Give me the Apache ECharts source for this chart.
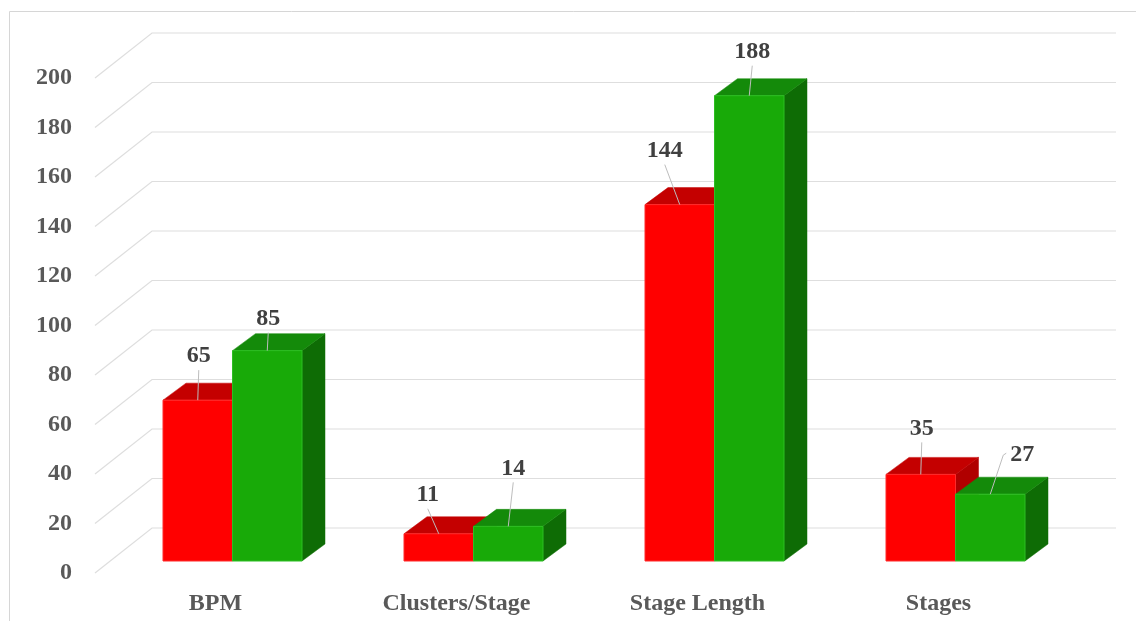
<!DOCTYPE html>
<html>
<head>
<meta charset="utf-8">
<script src="https://cdn.jsdelivr.net/npm/echarts/dist/echarts.min.js"></script>
<style>
  html, body { margin: 0; padding: 0; background: #ffffff; }
  #chart { width: 1136px; height: 621px; }
</style>
</head>
<body>
<div id="chart"></div>
<script>
// ---- data ----
const categories = ['BPM', 'Clusters/Stage', 'Stage Length', 'Stages'];
const redValues = [65, 11, 144, 35];
const greenValues = [85, 14, 188, 27];
const yTicks = [0, 20, 40, 60, 80, 100, 120, 140, 160, 180, 200];

// value-label placement (px) relative to the top-front centre of each bar
const redLabelOffsets = [[1, -44], [-11, -39], [-15, -54], [1, -46]];
const greenLabelOffsets = [[1, -32], [5, -58], [3, -44], [32, -39]];

// ---- oblique 3D geometry ----
const BAR_GRID = { left: 112, top: 66, width: 964, bottom: 60 };
const LABEL_SHIFT = [-17, 12];   // front (label) plane relative to the bar plane
const BACK_SHIFT = [40, -33];    // back wall relative to the bar plane
const DEPTH = [23, -17];         // bar thickness
const BAR_FRACTION = 69.5 / 241; // bar width as part of a category band

const FONT = '"Liberation Serif", "Times New Roman", serif';

const palette = {
  red:   { front: '#ff0000', top: '#c40000', side: '#b00000', edge: '#ff2a2a' },
  green: { front: '#18aa08', top: '#148a0a', side: '#0e6c05', edge: '#2cbf22' }
};

function barRenderer(colors, side) {
  return function (params, api) {
    const cat = api.value(0), val = api.value(1);
    const base = api.coord([cat, 0]);
    const top = api.coord([cat, val]);
    const band = api.size([1, 0])[0];
    const w = band * BAR_FRACTION;
    const x0 = side === 0 ? base[0] - w : base[0];
    const x1 = x0 + w;
    const yb = base[1], yt = top[1];
    const dx = DEPTH[0], dy = DEPTH[1];
    return {
      type: 'group',
      children: [
        { type: 'polygon',
          shape: { points: [[x1, yb], [x1 + dx, yb + dy], [x1 + dx, yt + dy], [x1, yt]] },
          style: { fill: colors.side, stroke: colors.side, lineWidth: 0.5 } },
        { type: 'polygon',
          shape: { points: [[x0, yt], [x1, yt], [x1 + dx, yt + dy], [x0 + dx, yt + dy]] },
          style: { fill: colors.top, stroke: colors.top, lineWidth: 0.5 } },
        { type: 'rect',
          shape: { x: x0, y: yt, width: w, height: yb - yt },
          style: { fill: colors.front, stroke: colors.edge, lineWidth: 1 } }
      ]
    };
  };
}

function labelRenderer(offsets, side) {
  return function (params, api) {
    const cat = api.value(0), val = api.value(1);
    const base = api.coord([cat, 0]);
    const top = api.coord([cat, val]);
    const band = api.size([1, 0])[0];
    const w = band * BAR_FRACTION;
    const cx = side === 0 ? base[0] - w / 2 : base[0] + w / 2;
    const anchor = [cx, top[1]];
    const off = offsets[params.dataIndex];
    const lx = anchor[0] + off[0], ly = anchor[1] + off[1];
    let points;
    if (Math.abs(off[0]) > 20) {
      // label sits beside the bar: leader leaves from its left side
      points = [[lx - 16, ly - 2], [lx - 19, ly], anchor];
    } else {
      points = [[lx, ly + 14], anchor];
    }
    return {
      type: 'group',
      children: [
        { type: 'polyline', shape: { points: points },
          style: { stroke: '#bdbdbd', lineWidth: 1, fill: null } },
        { type: 'text',
          style: { text: String(val), x: lx, y: ly, align: 'center', verticalAlign: 'middle',
                   font: 'bold 24px ' + FONT, fill: '#404040' } }
      ]
    };
  };
}

function gridRenderer(params, api) {
  const v = api.value(0);
  const cs = params.coordSys;
  const y = api.coord([0, v])[1];
  const left = cs.x, right = cs.x + cs.width;
  return {
    type: 'polyline',
    shape: { points: [
      [left + LABEL_SHIFT[0], y + LABEL_SHIFT[1]],
      [left + BACK_SHIFT[0], y + BACK_SHIFT[1]],
      [right + BACK_SHIFT[0], y + BACK_SHIFT[1]]
    ] },
    style: { stroke: '#dedede', lineWidth: 1.2, fill: null }
  };
}

const labelGrid = {
  left: BAR_GRID.left + LABEL_SHIFT[0],
  top: BAR_GRID.top + LABEL_SHIFT[1],
  width: BAR_GRID.width,
  bottom: BAR_GRID.bottom - LABEL_SHIFT[1]
};

const chart = echarts.init(document.getElementById('chart'), null, { renderer: 'canvas' });
chart.setOption({
  animation: false,
  backgroundColor: '#ffffff',
  graphic: [{
    type: 'rect', z: -10,
    shape: { x: 9.5, y: 11.5, width: 1140, height: 640 },
    style: { fill: null, stroke: '#d6d6d6', lineWidth: 1 }
  }],
  grid: [
    { left: BAR_GRID.left, top: BAR_GRID.top, width: BAR_GRID.width, bottom: BAR_GRID.bottom },
    { left: labelGrid.left, top: labelGrid.top, width: labelGrid.width, bottom: labelGrid.bottom }
  ],
  xAxis: [
    { type: 'category', gridIndex: 0, data: categories, show: false },
    { type: 'category', gridIndex: 1, data: categories,
      axisLine: { show: false }, axisTick: { show: false },
      axisLabel: { margin: 19, color: '#595959', fontFamily: FONT, fontWeight: 'bold', fontSize: 24 } }
  ],
  yAxis: [
    { type: 'value', gridIndex: 0, min: 0, max: 200, interval: 20, show: false },
    { type: 'value', gridIndex: 1, min: 0, max: 200, interval: 20,
      axisLine: { show: false }, axisTick: { show: false }, splitLine: { show: false },
      axisLabel: { margin: 23, color: '#595959', fontFamily: FONT, fontWeight: 'bold', fontSize: 24 } }
  ],
  series: [
    { type: 'custom', name: 'grid', xAxisIndex: 0, yAxisIndex: 0, z: 1, silent: true,
      renderItem: gridRenderer, data: yTicks.map(v => [v]), encode: { y: 0 } },
    { type: 'custom', name: 'Red', xAxisIndex: 0, yAxisIndex: 0, z: 2,
      renderItem: barRenderer(palette.red, 0),
      data: redValues.map((v, i) => [i, v]) },
    { type: 'custom', name: 'Green', xAxisIndex: 0, yAxisIndex: 0, z: 3,
      renderItem: barRenderer(palette.green, 1),
      data: greenValues.map((v, i) => [i, v]) },
    { type: 'custom', name: 'Red labels', xAxisIndex: 0, yAxisIndex: 0, z: 5,
      renderItem: labelRenderer(redLabelOffsets, 0),
      data: redValues.map((v, i) => [i, v]) },
    { type: 'custom', name: 'Green labels', xAxisIndex: 0, yAxisIndex: 0, z: 5,
      renderItem: labelRenderer(greenLabelOffsets, 1),
      data: greenValues.map((v, i) => [i, v]) }
  ]
});
</script>
</body>
</html>
